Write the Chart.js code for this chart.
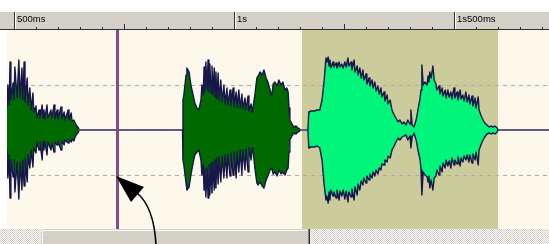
<!DOCTYPE html>
<html>
<head>
<meta charset="utf-8">
<script src="https://cdn.jsdelivr.net/npm/chart.js@4"></script>
<style>
  html, body { margin: 0; padding: 0; background: #fff; }
  canvas { display: block; }
</style>
</head>
<body>
<canvas id="wave" width="549" height="244"></canvas>
<script>
// time in ms, amplitude in arbitrary units (dashed guides at +/-45)
const t1 = [484,486,489,491,493,498,500,502,507,511,514,518,520,523,525,530,532,536,539,543,545,550,552,557,559,564,566,568,570,575,577,584,586,591,593,598,600,607,609,614,616,623,625,630,632,636,639,643,648];
const hi1 = [20,45,25,68,30,47,30,63,32,70,32,62,30,68,28,52,25,42,20,37,18,24,12,20,12,25,12,20,11,25,12,20,12,25,11,20,11,23,11,18,10,20,10,17,9,10,7,4,1];
const lo1 = [-20,-48,-25,-68,-30,-47,-30,-62,-32,-69,-32,-60,-30,-56,-28,-52,-25,-38,-20,-37,-18,-23,-12,-20,-12,-30,-12,-20,-11,-25,-12,-20,-13,-22,-12,-15,-11,-20,-11,-15,-10,-13,-10,-12,-9,-11,-7,-4,-1];

const t2 = [883,884,886,891,893,898,902,907,911,916,920,925,927,930,932,934,936,939,941,943,945,948,950,952,955,957,959,961,964,966,970,973,977,980,984,986,991,993,998,1000,1005,1007,1011,1014,1018,1020,1025,1027,1032,1034,1039,1041,1043,1048,1052,1055,1059,1064,1068,1073,1077,1082,1086,1089,1093,1098,1102,1107,1111,1116,1120,1123,1125,1127,1132,1136,1141,1145,1150];
const hi2 = [0,30,35,55,62,58,45,35,27,22,20,30,45,35,63,38,68,40,70,38,66,37,64,35,62,33,58,31,57,30,50,28,45,26,42,25,40,24,42,23,38,22,40,22,36,21,32,20,34,19,26,18,22,37,52,54,58,55,60,52,48,40,34,46,48,44,50,45,48,40,42,38,22,10,6,3,4,2,1];
const lo2 = [0,-30,-35,-53,-60,-57,-45,-33,-25,-22,-20,-30,-45,-35,-60,-38,-67,-38,-68,-35,-65,-33,-63,-32,-60,-30,-58,-28,-54,-27,-52,-26,-48,-25,-48,-24,-46,-23,-45,-22,-48,-22,-42,-20,-45,-20,-40,-19,-42,-18,-30,-18,-20,-40,-53,-55,-52,-56,-58,-50,-46,-40,-38,-44,-42,-46,-40,-44,-42,-45,-40,-38,-22,-10,-6,-3,-4,-2,-1];

const t3 = [1168,1170,1175,1182,1189,1195,1200,1205,1209,1211,1214,1216,1218,1220,1225,1227,1232,1234,1239,1241,1245,1248,1252,1255,1259,1261,1266,1268,1273,1275,1280,1282,1286,1289,1293,1295,1300,1302,1307,1309,1314,1316,1320,1323,1327,1330,1334,1336,1341,1343,1348,1350,1355,1359,1364,1368,1373,1377,1382,1386,1391,1395,1400,1402,1405,1409,1414,1418,1423,1425,1427,1430,1434,1439,1441,1443,1445,1448,1452,1455,1459,1461,1466,1468,1473,1475,1480,1482,1486,1489,1493,1495,1500,1502,1507,1509,1514,1516,1520,1523,1527,1530,1534,1536,1541,1543,1548,1550,1555,1557,1561,1566,1570,1575,1580,1584,1589,1593,1598,1600];
const hi3 = [0,18,19,19,20,20,30,50,72,68,73,64,70,62,68,63,67,62,68,63,66,62,68,63,72,64,68,60,70,58,64,55,62,52,60,50,56,46,52,44,50,42,48,39,44,36,42,33,38,29,35,26,30,20,15,12,8,10,6,8,5,10,6,20,5,3,10,20,32,40,65,45,48,45,54,48,58,52,64,50,46,40,44,36,42,34,40,32,40,33,38,31,42,32,38,30,40,31,35,29,38,28,35,26,34,24,32,22,33,20,15,10,7,5,3,4,3,4,2,0];
const lo3 = [0,-18,-17,-17,-16,-18,-30,-55,-70,-66,-73,-62,-70,-60,-66,-62,-68,-60,-70,-61,-66,-60,-69,-61,-72,-62,-67,-59,-70,-57,-65,-54,-60,-51,-55,-48,-53,-46,-50,-44,-48,-42,-46,-40,-44,-38,-40,-34,-35,-30,-32,-26,-28,-20,-16,-12,-8,-10,-7,-6,-5,-10,-6,-18,-7,-3,-10,-20,-30,-40,-65,-42,-45,-47,-52,-46,-58,-50,-60,-48,-46,-40,-45,-36,-42,-33,-38,-30,-36,-31,-38,-28,-35,-30,-34,-27,-36,-28,-32,-26,-30,-25,-32,-25,-33,-24,-30,-22,-35,-20,-15,-10,-7,-4,-3,-4,-3,-4,-2,0];

const viewStart = 484.1, viewEnd = 1715.9;
const ampMin = -99, ampMax = 100;
const guideLevels = [-45, 45];
const selStart = 1154, selEnd = 1600;
const cursorTime = 734;
const rulerValues = [500, 1000, 1500];
const rulerLabels = ['500ms', '1s', '1s500ms'];
const rulerStep = 50;

const outline = '#161648';
const segments = [
  { t: t1, hi: hi1, lo: lo1, color: '#006a00' },
  { t: t2, hi: hi2, lo: lo2, color: '#006a00' },
  { t: t3, hi: hi3, lo: lo3, color: '#00f57a' }
];

const datasets = [];
segments.forEach(s => {
  const common = { borderColor: outline, borderWidth: 1.4, pointRadius: 0, tension: 0, borderJoinStyle: 'round' };
  datasets.push(Object.assign({ data: s.t.map((t, i) => ({ x: t, y: s.hi[i] })), fill: '+1', backgroundColor: s.color }, common));
  datasets.push(Object.assign({ data: s.t.map((t, i) => ({ x: t, y: s.lo[i] })), fill: false }, common));
});

const editorPlugin = {
  id: 'editor',
  beforeDraw(chart) {
    const { ctx, chartArea: a, scales: { x, y } } = chart;
    ctx.save();
    ctx.fillStyle = '#fdf8ec';
    ctx.fillRect(a.left, a.top, a.right - a.left, a.bottom - a.top);
    const s0 = Math.round(x.getPixelForValue(selStart)), s1 = Math.round(x.getPixelForValue(selEnd));
    ctx.fillStyle = '#cccb9b';
    ctx.fillRect(s0, a.top, s1 - s0, a.bottom - a.top);
    ctx.strokeStyle = '#ababab';
    ctx.lineWidth = 1;
    ctx.setLineDash([4, 4]);
    guideLevels.forEach(v => {
      const py = Math.round(y.getPixelForValue(v)) + 0.5;
      ctx.beginPath(); ctx.moveTo(a.left, py); ctx.lineTo(a.right, py); ctx.stroke();
    });
    ctx.setLineDash([]);
    ctx.strokeStyle = '#5c5c7c';
    ctx.lineWidth = 2;
    const zy = Math.round(y.getPixelForValue(0));
    ctx.beginPath(); ctx.moveTo(a.left, zy); ctx.lineTo(a.right, zy); ctx.stroke();
    ctx.restore();
  },
  afterDatasetsDraw(chart) {
    const { ctx, chartArea: a, scales: { x } } = chart;
    const cx = Math.round(x.getPixelForValue(cursorTime));
    ctx.save();
    ctx.fillStyle = '#8a4a88';
    ctx.fillRect(cx - 1, a.top, 3, a.bottom - a.top);
    ctx.restore();
  },
  afterDraw(chart) {
    const { ctx, chartArea: a, scales: { x } } = chart;
    const W = chart.width, H = chart.height;
    ctx.save();
    // ruler
    ctx.fillStyle = '#d4d0c8';
    ctx.fillRect(0, 12, W, a.top - 12);
    ctx.fillStyle = '#303030';
    ctx.fillRect(0, a.top - 1, W, 1);
    for (let v = rulerValues[0] - rulerStep * 2; v <= viewEnd; v += rulerStep) {
      const px = Math.round(x.getPixelForValue(v));
      if (v % 500 === 0) {
        ctx.fillStyle = '#303030';
        ctx.fillRect(px, 12, 1, a.top - 12);
        ctx.fillStyle = '#ffffff';
        ctx.fillRect(px + 1, 12, 1, a.top - 13);
      } else if (v % 250 === 0) {
        ctx.fillStyle = '#303030';
        ctx.fillRect(px, a.top - 6, 1, 6);
      } else {
        ctx.fillStyle = '#303030';
        ctx.fillRect(px, a.top - 3, 1, 3);
      }
    }
    ctx.fillStyle = '#000';
    ctx.font = '9.5px "Liberation Sans", Arial, sans-serif';
    ctx.textBaseline = 'alphabetic';
    rulerValues.forEach((v, i) => {
      ctx.fillText(rulerLabels[i], Math.round(x.getPixelForValue(v)) + 3, 22);
    });
    // scrollbar track
    const pc = document.createElement('canvas');
    pc.width = 2; pc.height = 2;
    const p = pc.getContext('2d');
    p.fillStyle = '#ffffff'; p.fillRect(0, 0, 2, 2);
    p.fillStyle = '#d4d0c8'; p.fillRect(0, 0, 1, 1); p.fillRect(1, 1, 1, 1);
    ctx.fillStyle = ctx.createPattern(pc, 'repeat');
    ctx.fillRect(0, a.bottom, W, H - a.bottom);
    // scrollbar thumb
    const tx0 = 41, tx1 = 310;
    ctx.fillStyle = '#d4d0c8';
    ctx.fillRect(tx0, a.bottom, tx1 - tx0, H - a.bottom);
    ctx.fillStyle = '#ffffff';
    ctx.fillRect(tx0, a.bottom + 1, tx1 - tx0, 1);
    ctx.fillRect(tx0 + 1, a.bottom + 1, 1, H - a.bottom);
    ctx.fillStyle = '#808080';
    ctx.fillRect(tx1 - 2, a.bottom, 1, H - a.bottom);
    ctx.fillStyle = '#303030';
    ctx.fillRect(tx1 - 1, a.bottom, 1, H - a.bottom);
    // callout arrow
    ctx.strokeStyle = '#000';
    ctx.lineWidth = 1.6;
    ctx.beginPath();
    ctx.moveTo(156, 245);
    ctx.quadraticCurveTo(154, 207, 137, 193);
    ctx.stroke();
    ctx.fillStyle = '#000';
    ctx.beginPath();
    ctx.moveTo(116, 176);
    ctx.lineTo(131, 202);
    ctx.lineTo(144, 187);
    ctx.closePath();
    ctx.fill();
    ctx.restore();
  }
};

new Chart(document.getElementById('wave'), {
  type: 'line',
  data: { datasets },
  options: {
    responsive: false,
    animation: false,
    devicePixelRatio: 1,
    layout: { padding: { left: 7, top: 30, right: 0, bottom: 15 } },
    scales: {
      x: { type: 'linear', min: viewStart, max: viewEnd, display: false },
      y: { min: ampMin, max: ampMax, display: false }
    },
    plugins: {
      legend: { display: false },
      tooltip: { enabled: false },
      filler: { drawTime: 'beforeDatasetsDraw' }
    }
  },
  plugins: [editorPlugin]
});
</script>
</body>
</html>
